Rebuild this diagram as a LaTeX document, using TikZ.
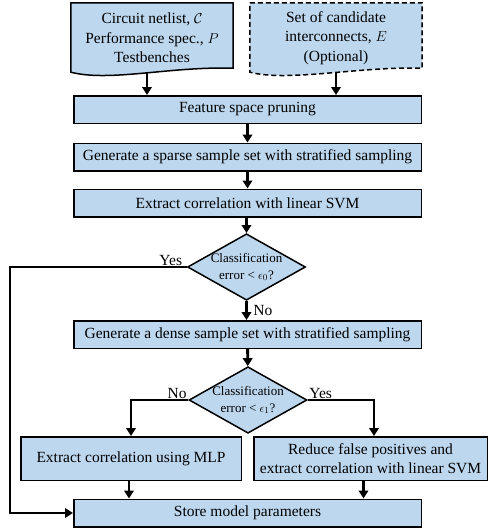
\documentclass[tikz,border=0pt]{standalone}
\usepackage{fontspec}
\setmainfont{Liberation Serif}
\usepackage{amsmath}
\usepackage{amssymb}
\usetikzlibrary{positioning, shapes.geometric, arrows.meta, backgrounds}

\definecolor{boxblue}{RGB}{189,215,238}
\newcommand{\boxfont}{\fontsize{15.5}{19.5}\selectfont}
\newcommand{\decfont}{\fontsize{13}{17}\selectfont}

\begin{document}
\begin{tikzpicture}[
        x=1pt, y=1pt,
        box/.style={draw, line width=1.5pt, fill=boxblue, align=center, minimum width=347.5pt, minimum height=27.5pt, inner sep=2pt, font=\boxfont},
        wide/.style={box, minimum width=#1, minimum height=43.5pt},
        decision/.style={diamond, draw, line width=1.5pt, fill=boxblue, align=center, inner sep=-2pt, aspect=1.75, minimum width=118pt, minimum height=66.5pt, font=\decfont},
        doc/.style={align=center, minimum width=#1, minimum height=70pt, font=\boxfont},
        docline/.style={line width=1.5pt, fill=boxblue},
        docwave/.style={insert path={(#1.north west) -- (#1.north east) -- ([yshift=5pt]#1.south east)
            .. controls ([shift={(-63pt,7pt)}]#1.south east) and ([shift={(39pt,-9pt)}]#1.south west) .. ([yshift=1pt]#1.south west) -- cycle}},
        arrow/.style={-{Triangle[length=8pt,width=9.5pt]}, line width=2.8pt},
        lbl/.style={font=\boxfont, inner sep=1.5pt}
    ]
    \useasboundingbox (0,0) rectangle (489,-531);

    % Nodes
    \node[doc=162pt] (circ) at (152,-38) {Circuit netlist, $\mathcal{C}$\\Performance spec., $P$\\Testbenches};
    \node[doc=172pt] (cand) at (336,-38) {Set of candidate\\interconnects, $E$\\(Optional)};
    \node[box] (feat) at (247.5,-109.5) {Feature space pruning};
    \node[box] (sparse) at (247.5,-157) {Generate a sparse sample set with stratified sampling};
    \node[box] (extract) at (247.5,-203) {Extract correlation with linear SVM};
    \node[decision] (dec0) at (246.5,-267) {Classification\\error < $\epsilon_0$?};
    \node[box] (dense) at (247.5,-334.5) {Generate a dense sample set with stratified sampling};
    \node[decision] (dec1) at (248,-400) {Classification\\error < $\epsilon_1$?};
    \node[wide=220.5pt] (mlp) at (131,-458.5) {Extract correlation using MLP};
    \node[wide=233.5pt] (reduce) at (370.5,-458.5) {Reduce false positives and\\extract correlation with linear SVM};
    \node[box] (store) at (247.5,-513) {Store model parameters};
    \coordinate (loop) at (10,0);

    % Labels
    \node[lbl, above left=0pt and 3pt of dec0.west] (yes0) {Yes};
    \node[lbl, above left=0pt and 0pt of dec1.west] (no1) {No};
    \node[lbl, above right=0pt and 0pt of dec1.east] (yes1) {Yes};

    % Document shapes
    \begin{scope}[on background layer]
        \draw[docline, docwave=circ];
        \draw[docline, dash pattern=on 5pt off 3pt, docwave=cand];
    \end{scope}

    % Arrows
    \draw[arrow] ([xshift=-5pt]circ.south) -- ([xshift=-5pt]circ.south |- feat.north);
    \draw[arrow] (cand.south) -- (cand.south |- feat.north);
    \draw[arrow] (feat) -- (sparse);
    \draw[arrow] (sparse) -- (extract);
    \draw[arrow] (extract.south -| dec0) -- (dec0);
    \draw[arrow] (dec0) -- node[lbl, right=4pt] (no0) {No} (dec0 |- dense.north);
    \draw[arrow] (dense) -- (dec1);
    \draw[arrow] (dec0.west) -- (dec0.west -| loop) |- (store.west);
    \draw[arrow] (dec1.west) -| (mlp.north);
    \draw[arrow] (dec1.east) -| ([xshift=3.5pt]reduce.north);
    \draw[arrow] ([xshift=-2pt]mlp.south) -- ([xshift=-2pt]mlp.south |- store.north);
    \draw[arrow] ([xshift=-7pt]reduce.south) -- ([xshift=-7pt]reduce.south |- store.north);

\end{tikzpicture}
\end{document}
